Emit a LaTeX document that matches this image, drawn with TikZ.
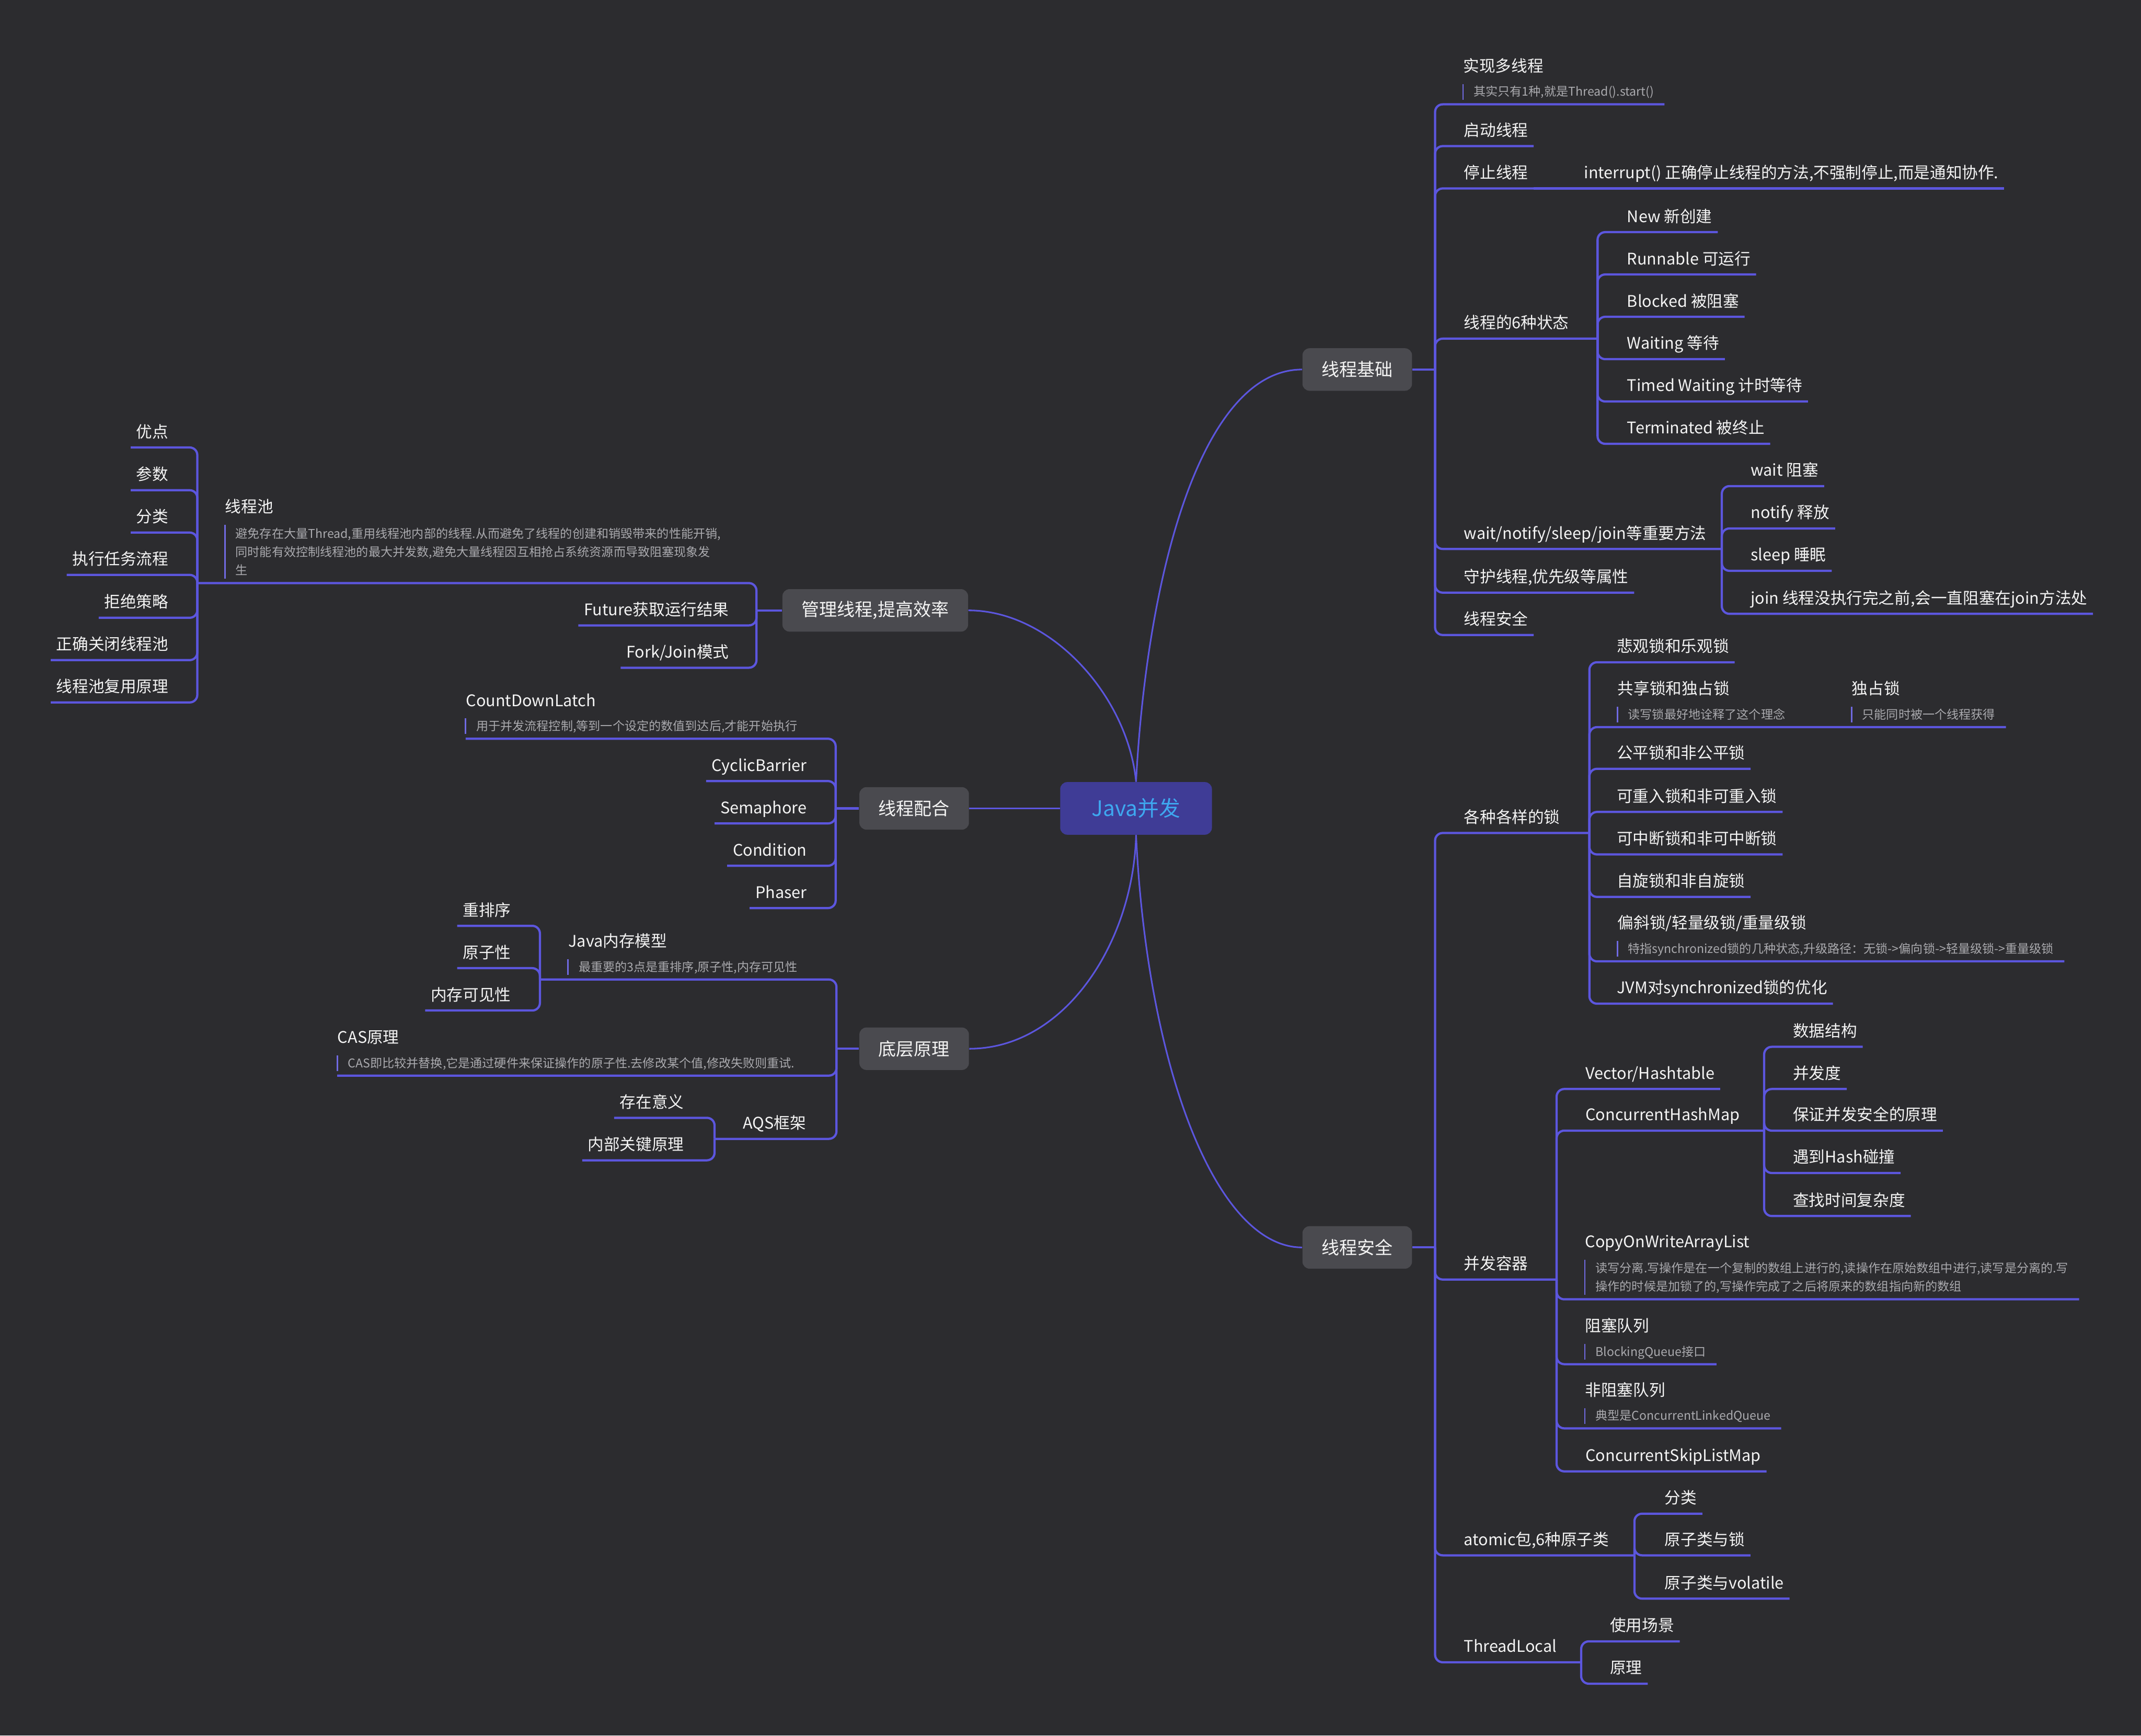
\documentclass[tikz,border=0pt]{standalone}
\usepackage{fontspec}
\setmainfont{Noto Sans CJK SC}
\usepackage{xcolor}
\definecolor{bgc}{RGB}{44,44,47}
\definecolor{branch}{RGB}{92,86,222}
\definecolor{nbarc}{RGB}{112,106,226}
\definecolor{boxc}{RGB}{74,74,79}
\definecolor{rootc}{RGB}{63,60,150}
\definecolor{roottxt}{RGB}{62,168,240}
\definecolor{tpc}{RGB}{244,244,244}
\definecolor{ntc}{RGB}{170,170,174}
\newcommand\ndp{\rule[-3.1pt]{0pt}{3.1pt}}
\tikzset{
  tp/.style={font=\fontsize{9}{11}\selectfont,text=tpc,inner xsep=3pt,inner ysep=2.4pt,text height=7pt,text depth=3pt},
  tpr/.style={tp,anchor=south west},
  tpl/.style={tp,anchor=south east},
  ttl/.style={font=\fontsize{9}{11}\selectfont,text=tpc,inner sep=0pt,anchor=base west},
  nt/.style={font=\fontsize{6.8}{10.4}\selectfont,text=ntc,inner xsep=5.8pt,inner ysep=1.3pt,text height=5.3pt,text depth=3.1pt,anchor=south west},
  ntm/.style={font=\fontsize{6.8}{10.4}\selectfont,text=ntc,inner xsep=5.8pt,inner ysep=1.3pt,align=left,anchor=south west},
  br/.style={draw=branch,line width=1.25pt,rounded corners=0.15cm},
  cbr/.style={draw=branch,line width=0.9pt},
  nbar/.style={draw=nbarc,line width=0.8pt},
  mbox/.style={fill=boxc,rounded corners=0.14cm,text=tpc,font=\fontsize{10}{12}\selectfont,minimum height=0.84cm,inner xsep=0.38cm}
}
\begin{document}
\begin{tikzpicture}[x=0.027cm,y=-0.027cm]
\useasboundingbox (0,0) rectangle (1568,1271);
\fill[bgc] (0,0) rectangle (1568,1271);

\node[fill=rootc,rounded corners=0.14cm,text=roottxt,font=\fontsize{12}{14}\selectfont,minimum width=3cm,minimum height=1.04cm] (java) at (832,592) {Java并发};
\node[mbox] (basic) at (994,270.6) {线程基础};
\node[mbox] (safe) at (994,913.5) {线程安全};
\node[mbox] (mgr) at (641,447) {管理线程,提高效率};
\node[mbox] (coop) at (669.5,592) {线程配合};
\node[mbox] (low) at (669.5,768) {底层原理};

\draw[cbr] (java.north) .. controls (840,420) and (880,270.6) .. (basic.west);
\draw[cbr] (java.north) .. controls (826,510) and (770,447) .. (mgr.east);
\draw[cbr] (java.west) -- (coop.east);
\draw[cbr] (java.south) .. controls (830,690) and (780,768) .. (low.east);
\draw[cbr] (java.south) .. controls (840,780) and (890,913.5) .. (safe.west);

\coordinate (jA) at (1051,270.6);
\draw[br] (basic.east) -- (jA);
\node[nt] (n1) at (1071.5,76.4) {其实只有1种,就是Thread().start()};
\node[ttl] (t1) at ([yshift=6.9pt]n1.north west) {实现多线程};
\node[tpr] (b2) at (1068,107) {启动线程};
\node[tpr] (b3) at (1068,138) {停止线程};
\node[tpr] (b3a) at (1156,138) {interrupt() 正确停止线程的方法,不强制停止,而是通知协作.};
\node[tpr] (b4) at (1068,248) {线程的6种状态};
\node[tpr] (b5) at (1068,402) {wait/notify/sleep/join等重要方法};
\node[tpr] (b6) at (1068,434) {守护线程,优先级等属性};
\node[tpr] (b7) at (1068,465) {线程安全};
\foreach \n in {n1,b2,b3,b6,b7} \draw[br] (jA) |- (\n.south east);
\draw[br] (b3.south east) -- (b3a.south east);
\coordinate (jS) at (1170,248);
\coordinate (jW) at (1261,402);
\draw[br] (jA) |- (jS);
\draw[br] (jA) |- (jW);
\foreach \t/\y [count=\i] in {New 新创建/170, Runnable 可运行/201, Blocked 被阻塞/232, Waiting 等待/263, Timed Waiting 计时等待/294, Terminated 被终止/325}{
  \node[tpr] (s\i) at (1187.5,\y) {\t};
  \draw[br] (jS) |- (s\i.south east);}
\foreach \t/\y [count=\i] in {wait 阻塞/356, notify 释放/387, sleep 睡眠/418, {join 线程没执行完之前,会一直阻塞在join方法处}/449.5}{
  \node[tpr] (w\i) at (1278,\y) {\t};
  \draw[br] (jW) |- (w\i.south east);}

\coordinate (jB) at (1051,913.5);
\draw[br] (safe.east) -- (jB);
\node[tpr] (c1) at (1068,610) {各种各样的锁};
\node[tpr] (c2) at (1068,937) {并发容器};
\node[tpr] (c3) at (1068,1139) {atomic包,6种原子类};
\node[tpr] (c4) at (1068,1217.3) {ThreadLocal};
\coordinate (jL) at (1164,610);
\coordinate (jC) at (1140,937);
\coordinate (jT) at (1197,1139);
\coordinate (jR) at (1158,1217.3);
\foreach \j in {jL,jC,jT,jR} \draw[br] (jB) |- (\j);

\foreach \t/\y [count=\i] in {悲观锁和乐观锁/485, 公平锁和非公平锁/563, 可重入锁和非可重入锁/594.6, 可中断锁和非可中断锁/625.7, 自旋锁和非自旋锁/656.8, JVM对synchronized锁的优化/735}{
  \node[tpr] (l\i) at (1180,\y) {\t};
  \draw[br] (jL) |- (l\i.south east);}
\node[nt] (ln1) at (1184.5,532.5) {读写锁最好地诠释了这个理念};
\node[ttl] (lt1) at ([yshift=6.9pt]ln1.north west) {共享锁和独占锁};
\node[nt] (ln2) at (1356,532.5) {只能同时被一个线程获得};
\node[ttl] (lt2) at ([yshift=6.9pt]ln2.north west) {独占锁};
\node[nt] (ln3) at (1184.5,704) {特指synchronized锁的几种状态,升级路径：无锁->偏向锁->轻量级锁->重量级锁};
\node[ttl] (lt3) at ([yshift=6.9pt]ln3.north west) {偏斜锁/轻量级锁/重量级锁};
\draw[br] (jL) |- (ln1.south east) -- (ln2.south east);
\draw[br] (jL) |- (ln3.south east);

\node[tpr] (k1) at (1157,797.5) {Vector/Hashtable};
\node[tpr] (k2) at (1157,828) {ConcurrentHashMap};
\node[ntm] (kn1) at (1160.7,951.5) {读写分离.写操作是在一个复制的数组上进行的,读操作在原始数组中进行,读写是分离的.写\\操作的时候是加锁了的,写操作完成了之后将原来的数组指向新的数组\ndp};
\node[ttl] (kt1) at ([yshift=6.9pt]kn1.north west) {CopyOnWriteArrayList};
\node[nt] (kn2) at (1160.7,999) {BlockingQueue接口};
\node[ttl] (kt2) at ([yshift=6.9pt]kn2.north west) {阻塞队列};
\node[nt] (kn3) at (1160.7,1046) {典型是ConcurrentLinkedQueue};
\node[ttl] (kt3) at ([yshift=6.9pt]kn3.north west) {非阻塞队列};
\node[tpr] (k3) at (1157,1077.5) {ConcurrentSkipListMap};
\foreach \n in {k1,kn1,kn2,kn3,k3} \draw[br] (jC) |- (\n.south east);
\coordinate (jH) at (1292,828);
\draw[br] (jC) |- (jH);
\foreach \t/\y [count=\i] in {数据结构/766.6, 并发度/797.5, 保证并发安全的原理/828, 遇到Hash碰撞/859, 查找时间复杂度/890.5}{
  \node[tpr] (h\i) at (1309,\y) {\t};
  \draw[br] (jH) |- (h\i.south east);}

\foreach \t/\y [count=\i] in {分类/1108.5, 原子类与锁/1139, 原子类与volatile/1170.7}{
  \node[tpr] (a\i) at (1215,\y) {\t};
  \draw[br] (jT) |- (a\i.south east);}
\foreach \t/\y [count=\i] in {使用场景/1202, 原理/1233}{
  \node[tpr] (r\i) at (1175,\y) {\t};
  \draw[br] (jR) |- (r\i.south east);}

\coordinate (jP) at (554,447);
\draw[br] (mgr.west) -- (jP);
\node[ntm] (pn) at (164.7,427) {避免存在大量Thread,重用线程池内部的线程.从而避免了线程的创建和销毁带来的性能开销,\\同时能有效控制线程池的最大并发数,避免大量线程因互相抢占系统资源而导致阻塞现象发\\生\ndp};
\node[ttl] (pt) at ([yshift=6.9pt]pn.north west) {线程池};
\coordinate (jQ) at (144.5,427);
\draw[br] (jP) |- (jQ);
\foreach \t/\y [count=\i] in {优点/327.7, 参数/359, 分类/390, 执行任务流程/421, 拒绝策略/452.4, 正确关闭线程池/483.4, 线程池复用原理/514.4}{
  \node[tpl] (p\i) at (127.5,\y) {\t};
  \draw[br] (jQ) |- (p\i.south west);}
\node[tpl] (m1) at (538,458) {Future获取运行结果};
\node[tpl] (m2) at (538,489) {Fork/Join模式};
\foreach \n in {m1,m2} \draw[br] (jP) |- (\n.south west);

\coordinate (jK) at (612,592);
\draw[br] (coop.west) -- (jK);
\node[nt] (cn) at (341,541) {用于并发流程控制,等到一个设定的数值到达后,才能开始执行};
\node[ttl] (ct) at ([yshift=6.9pt]cn.north west) {CountDownLatch};
\draw[br] (jK) |- (cn.south west);
\foreach \t/\y [count=\i] in {CyclicBarrier/572, Semaphore/603, Condition/634, Phaser/665}{
  \node[tpl] (q\i) at (595,\y) {\t};
  \draw[br] (jK) |- (q\i.south west);}

\coordinate (jD) at (612.6,768);
\draw[br] (low.west) -- (jD);
\node[nt] (dn1) at (416,717.3) {最重要的3点是重排序,原子性,内存可见性};
\node[ttl] (dt1) at ([yshift=6.9pt]dn1.north west) {Java内存模型};
\coordinate (jJ) at (395.4,717.3);
\draw[br] (jD) |- (jJ);
\foreach \t/\y [count=\i] in {重排序/678, 原子性/709, 内存可见性/740}{
  \node[tpl] (d\i) at (378.3,\y) {\t};
  \draw[br] (jJ) |- (d\i.south west);}
\node[nt] (dn2) at (247,787.7) {CAS即比较并替换,它是通过硬件来保证操作的原子性.去修改某个值,修改失败则重试.};
\node[ttl] (dt2) at ([yshift=6.9pt]dn2.north west) {CAS原理};
\draw[br] (jD) |- (dn2.south west);
\node[tpl] (d4) at (594.5,834) {AQS框架};
\coordinate (jG) at (523.3,834);
\draw[br] (jD) |- (jG);
\foreach \t/\y [count=\i from 5] in {存在意义/818.6, 内部关键原理/849.7}{
  \node[tpl] (d\i) at (505,\y) {\t};
  \draw[br] (jG) |- (d\i.south west);}

\foreach \n in {n1,ln1,ln2,ln3,kn1,kn2,kn3,pn,cn,dn1,dn2}
  \draw[nbar] (\n.north west) -- ([yshift=2.6pt]\n.south west);
\end{tikzpicture}
\end{document}
